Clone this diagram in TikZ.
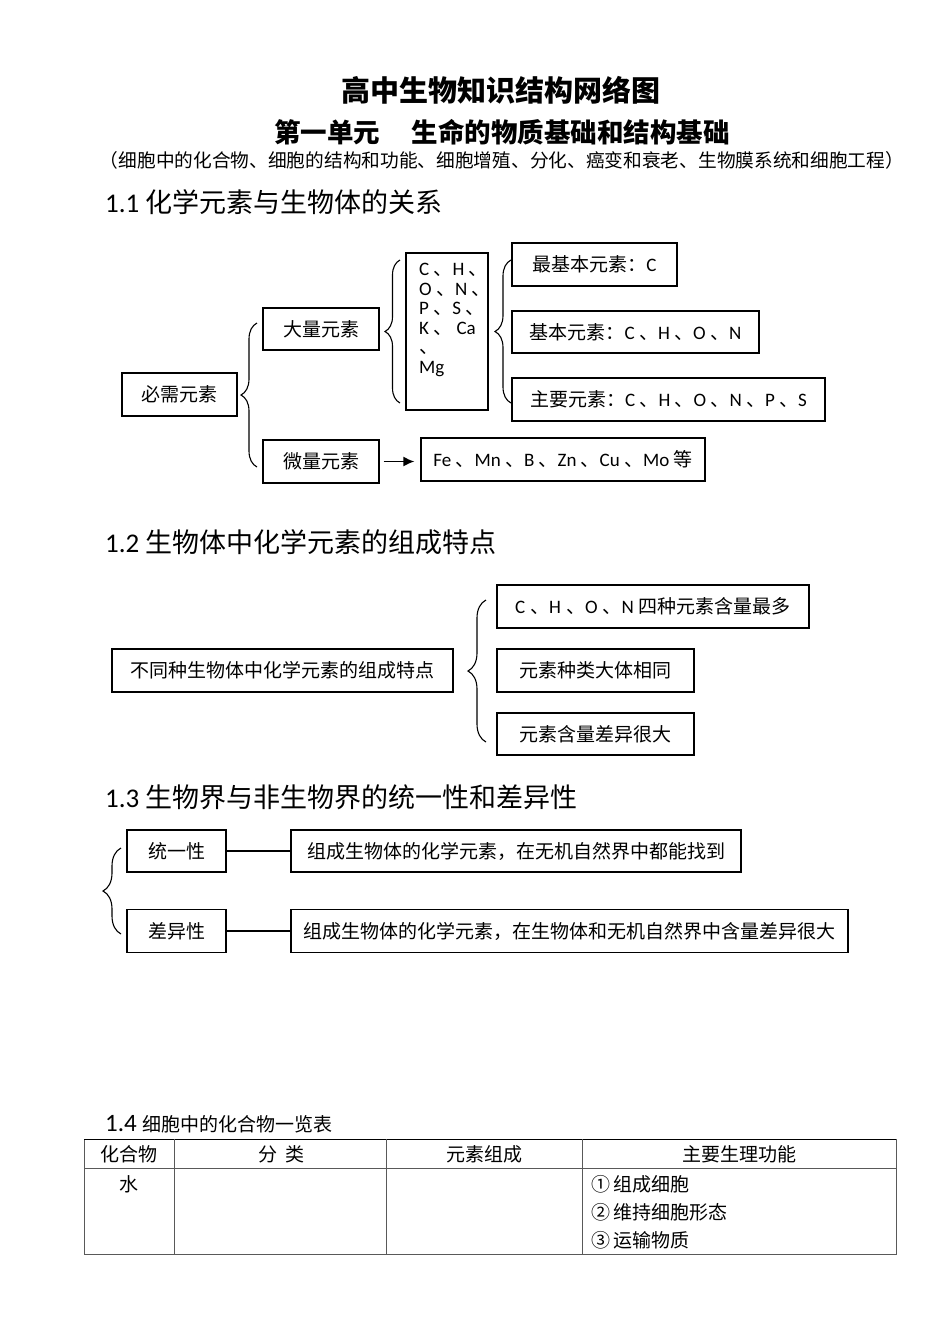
\documentclass[tikz,border=0pt]{standalone}
\usepackage{fontspec}
\setmainfont{Noto Sans CJK SC}
\newfontfamily\lat{Carlito}
\usetikzlibrary{decorations.pathreplacing,arrows.meta}
\newcommand\la[1]{{\lat #1}}
\newcommand\gp{\hspace{5pt}}
\begin{document}
\begin{tikzpicture}[x=1pt,y=-1pt,
  box/.style={draw,line width=1.3pt,inner sep=0pt,font=\fontsize{19}{22}\selectfont},
  brc/.style={decorate,decoration={brace,amplitude=#1},line width=1.1pt},
  head/.style={anchor=west,inner sep=0pt,font=\fontsize{27}{30}\selectfont},
  cell/.style={inner sep=0pt,font=\fontsize{19}{22}\selectfont},
  tline/.style={line width=0.9pt,black!65}]
\fill[white] (0,0) rectangle (950,1342);
\useasboundingbox (0,0) rectangle (950,1342);

% titles
\node[font=\fontsize{29}{34}\selectfont\bfseries] (title) at (501,90) {高中生物知识结构网络图};
\node[font=\fontsize{26.5}{30}\selectfont\bfseries] (sub) at (502,132) {第一单元\hspace{32pt}生命的物质基础和结构基础};
\node[font=\fontsize{18.7}{20}\selectfont] (paren) at (502,160) {（细胞中的化合物、细胞的结构和功能、细胞增殖、分化、癌变和衰老、生物膜系统和细胞工程）};

% 1.1
\node[head] (h11) at (105,202) {\la{1.1} 化学元素与生物体的关系};
\node[box,minimum width=115pt,minimum height=43pt] (bixu) at (179.5,394.5) {必需元素};
\node[box,minimum width=116pt,minimum height=42pt] (daliang) at (321,329) {大量元素};
\node[box,minimum width=116pt,minimum height=43pt] (weiliang) at (321,461.5) {微量元素};
\node[box,minimum width=82pt,minimum height=157pt] (tall) at (447,331.5) {};
\node[anchor=north west,inner sep=0pt,align=left,font=\fontsize{19}{19.5}\selectfont] (elems) at (419,263)
  {\la{C} 、\la{H} 、\\\la{O} 、\la{N} 、\\\la{P} 、\la{S} 、\\\la{K} 、 \la{Ca}\\、\\\la{Mg}};
\node[box,minimum width=165pt,minimum height=43pt] (zjb) at (594.5,264.5) {最基本元素：\la{C}};
\node[box,minimum width=247pt,minimum height=42pt] (jb) at (635.5,332) {基本元素：\la{C} 、\la{H} 、\la{O} 、\la{N}};
\node[box,minimum width=313pt,minimum height=43pt] (zy) at (668.5,399.5) {主要元素：\la{C} 、\la{H} 、\la{O} 、\la{N} 、\la{P} 、\la{S}};
\node[box,minimum width=284pt,minimum height=43pt] (fe) at (563,459.5) {\la{Fe} 、\la{Mn} 、\la{B} 、\la{Zn} 、\la{Cu} 、\la{Mo} 等};

\coordinate (b1t) at (257,323); \coordinate (b1b) at (257,467);
\coordinate (b2t) at (400,260); \coordinate (b2b) at (400,403);
\coordinate (b3t) at (511,260); \coordinate (b3b) at (511,403);
\draw[brc=16pt] (b1b) -- (b1t);
\draw[brc=15pt] (b2b) -- (b2t);
\draw[brc=16pt] (b3b) -- (b3t);
\draw[line width=1.5pt,-{Latex[length=11pt,width=10pt]},shorten <=4pt,shorten >=6pt]
  (weiliang.east) -- (weiliang.east -| fe.west);

% 1.2
\node[head] (h12) at (105,542) {\la{1.2} 生物体中化学元素的组成特点};
\node[box,minimum width=341pt,minimum height=43pt] (btz) at (282.5,670.5) {不同种生物体中化学元素的组成特点};
\node[box,minimum width=312pt,minimum height=43pt] (chon) at (653,606.5) {\la{C}\gp、\la{H}\gp、\la{O}\gp、\la{N}\gp 四种元素含量最多};
\node[box,minimum width=197pt,minimum height=43pt] (zl) at (595.5,670.5) {元素种类大体相同};
\node[box,minimum width=197pt,minimum height=42pt] (hl) at (595.5,734) {元素含量差异很大};
\coordinate (b4t) at (486,600); \coordinate (b4b) at (486,742);
\draw[brc=18pt] (b4b) -- (b4t);

% 1.3
\node[head] (h13) at (105,797) {\la{1.3} 生物界与非生物界的统一性和差异性};
\node[box,minimum width=99pt,minimum height=42pt] (tyx) at (176.5,851) {统一性};
\node[box,minimum width=99pt,minimum height=43pt] (cyx) at (176.5,931) {差异性};
\node[box,minimum width=450pt,minimum height=42pt] (t1) at (516,851) {组成生物体的化学元素，在无机自然界中都能找到};
\node[box,minimum width=557pt,minimum height=43pt] (t2) at (569.5,931) {组成生物体的化学元素，在生物体和无机自然界中含量差异很大};
\draw[line width=1.3pt] (tyx.east) -- (t1.west);
\draw[line width=1.3pt] (cyx.east) -- (t2.west);
\coordinate (b5t) at (121,848); \coordinate (b5b) at (121,934);
\draw[brc=18pt] (b5b) -- (b5t);

% 1.4
\node[anchor=base west,inner sep=0pt] (h14) at (105,1131) {\fontsize{25}{28}\selectfont\la{1.4} \fontsize{19}{22}\selectfont 细胞中的化合物一览表};
\draw[tline] (84,1139) rectangle (896,1254);
\draw[line width=1pt,black] (84,1139) -- (896,1139);
\draw[tline] (84,1168) -- (896,1168);
\draw[tline] (174,1139) -- (174,1254);
\draw[tline] (386,1139) -- (386,1254);
\draw[tline] (582,1139) -- (582,1254);
\node[cell] (c1) at (129,1154) {化合物};
\node[cell] (c2) at (281,1154) {分\hspace{8pt}类};
\node[cell] (c3) at (484,1154) {元素组成};
\node[cell] (c4) at (739,1154) {主要生理功能};
\node[cell] (water) at (129,1184) {水};
\node[cell,anchor=west] (f1) at (591,1184) {①\hspace{3pt}组成细胞};
\node[cell,anchor=west] (f2) at (591,1212) {②\hspace{3pt}维持细胞形态};
\node[cell,anchor=west] (f3) at (591,1240) {③\hspace{3pt}运输物质};
\end{tikzpicture}
\end{document}
